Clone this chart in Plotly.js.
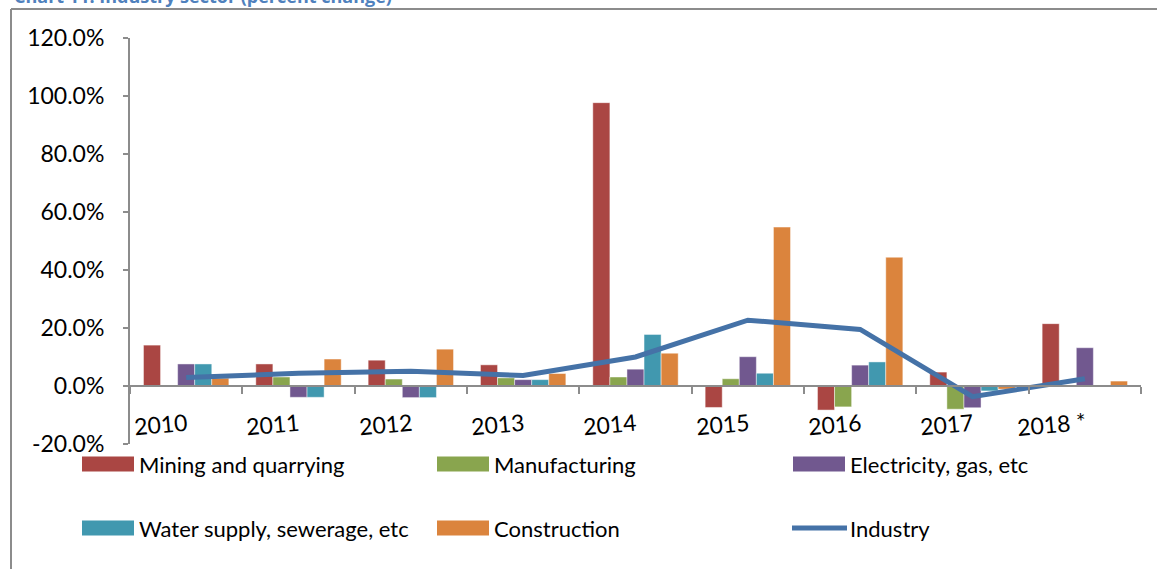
<!DOCTYPE html>
<html>
<head>
<meta charset="utf-8">
<script src="https://cdn.plot.ly/plotly-3.0.1.min.js"></script>
<style>html,body{margin:0;padding:0;background:#fff;}#chart{width:1157px;height:569px;}</style>
</head>
<body>
<div id="chart"></div>
<script>
// ---- data (percent change) ----
const years = ["2010","2011","2012","2013","2014","2015","2016","2017","2018 *"];
const mining        = [14.1, 7.6, 8.9, 7.3, 97.7, -7.4, -8.3, 4.8, 21.5];
const manufacturing = [0.0, 3.1, 2.4, 2.8, 3.1, 2.5, -7.2, -8.0, 0.0];
const electricity   = [7.6, -3.9, -4.0, 2.2, 5.8, 10.1, 7.2, -7.5, 13.2];
const water         = [7.6, -3.9, -4.0, 2.2, 17.8, 4.4, 8.3, -1.7, 0.0];
const construction  = [2.7, 9.3, 12.7, 4.3, 11.3, 54.8, 44.4, -1.1, 1.7];
const industry      = [2.9, 4.4, 5.1, 3.6, 10.0, 22.7, 19.5, -3.7, 2.5];

const yTickVals   = [-20, 0, 20, 40, 60, 80, 100, 120];
const yTickLabels = ["-20.0%", "0.0%", "20.0%", "40.0%", "60.0%", "80.0%", "100.0%", "120.0%"];

const barNames  = ["Mining and quarrying","Manufacturing","Electricity, gas, etc","Water supply, sewerage, etc","Construction"];
const barSeries = [mining, manufacturing, electricity, water, construction];
const barColors = ["#AA4643","#89A54E","#71588F","#4198AF","#DB843D"];
const lineName  = "Industry";
const lineColor = "#4572A7";
const titleText = "Chart 11: Industry sector (percent change)";

// ---- geometry helpers (pixels -> paper) ----
const L = 130, R = 1141, T = 38, B = 444;
const px = x => (x - L) / (R - L);
const py = y => (B - y) / (B - T);
const FONT = "Lato, 'Open Sans', sans-serif";
const idx = years.map((_, i) => i);

const traces = barSeries.map((vals, i) => ({
  type: "bar", x: idx, y: vals, name: barNames[i],
  marker: {color: barColors[i], line: {color: "rgba(255,255,255,0.45)", width: 1}},
  hoverinfo: "y+name"
}));
traces.push({
  type: "scatter", mode: "lines", x: idx, y: industry, name: lineName,
  line: {color: lineColor, width: 5}, hoverinfo: "y+name"
});

const shapes = [
  // outer frame (chart area border)
  {type: "line", xref: "paper", yref: "paper", x0: px(11), x1: px(1170), y0: py(9), y1: py(9), line: {color: "#8c8c8c", width: 2}},
  {type: "line", xref: "paper", yref: "paper", x0: px(11), x1: px(11), y0: py(9), y1: py(580), line: {color: "#8c8c8c", width: 2}}
];
const annotations = [
  {xref: "paper", yref: "paper", x: px(12), y: py(10), xanchor: "left", yanchor: "bottom", showarrow: false,
   text: "<b>" + titleText + "</b>", font: {family: "'Open Sans', sans-serif", size: 18, color: "#4F81BD"}}
];

// category labels, slightly rotated as in the original
years.forEach((yr, i) => {
  annotations.push({xref: "x", yref: "y", x: i, y: 0, xanchor: "right", yanchor: "middle",
    xshift: 4, yshift: -38, textangle: -5, showarrow: false, text: yr,
    font: {family: FONT, size: 23, color: "#000"}});
});

// custom legend (3 columns x 2 rows)
const legendCols = [82, 437, 793];
const legendRows = [464, 528];
const legendItems = barNames.map((n, i) => ({name: n, color: barColors[i], kind: "bar"}))
  .concat([{name: lineName, color: lineColor, kind: "line"}]);
legendItems.forEach((it, i) => {
  const cx = legendCols[i % 3], cy = legendRows[Math.floor(i / 3)];
  if (it.kind === "bar") {
    shapes.push({type: "rect", xref: "paper", yref: "paper", x0: px(cx), x1: px(cx + 52), y0: py(cy - 7.5), y1: py(cy + 7.5),
      fillcolor: it.color, line: {width: 0}});
  } else {
    shapes.push({type: "line", xref: "paper", yref: "paper", x0: px(cx - 1), x1: px(cx + 54), y0: py(cy), y1: py(cy),
      line: {color: it.color, width: 5}});
  }
  annotations.push({xref: "paper", yref: "paper", x: px(cx + 55), y: py(cy), xanchor: "left", yanchor: "middle",
    showarrow: false, text: it.name, font: {family: FONT, size: 22, color: "#000"}});
});

const layout = {
  width: 1157, height: 569,
  margin: {l: L, r: 1157 - R, t: T, b: 569 - B, pad: 0},
  paper_bgcolor: "#fff", plot_bgcolor: "#fff",
  showlegend: false,
  barmode: "group", bargap: 0.24, bargroupgap: 0,
  font: {family: FONT, size: 20, color: "#000"},
  xaxis: {type: "linear", range: [-0.5, 8.5], anchor: "free", position: 20 / 140,
    showline: true, linecolor: "#8c8c8c", linewidth: 2,
    ticks: "outside", tickmode: "array", tickvals: idx.concat([idx.length]).map(v => v - 0.5),
    ticklen: 7, tickcolor: "#8c8c8c", tickwidth: 2,
    showticklabels: false, showgrid: false, zeroline: false, fixedrange: true},
  yaxis: {range: [-20, 120], tickmode: "array", tickvals: yTickVals, ticktext: yTickLabels,
    showline: true, linecolor: "#8c8c8c", linewidth: 2,
    ticks: "outside", ticklen: 5, tickcolor: "#8c8c8c", tickwidth: 2,
    ticklabelstandoff: 14,
    tickfont: {family: FONT, size: 23, color: "#000"},
    showgrid: false, zeroline: false, fixedrange: true},
  shapes: shapes,
  annotations: annotations
};

Plotly.newPlot("chart", traces, layout, {displayModeBar: false, staticPlot: true});
</script>
</body>
</html>
